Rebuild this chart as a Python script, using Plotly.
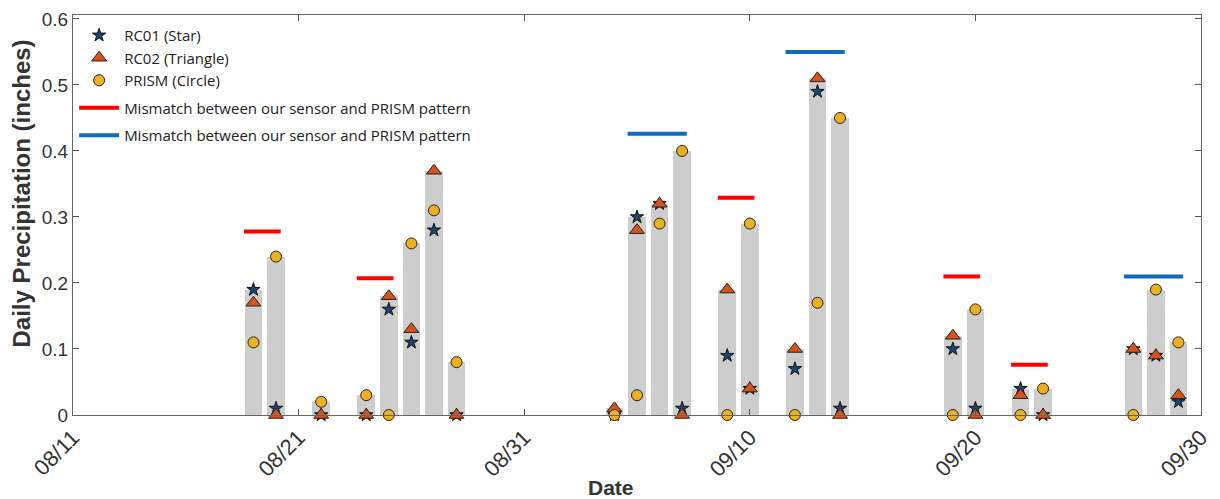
import plotly.graph_objects as go
import pandas as pd

# ---------------- data ----------------
dates = ["2024-08-19", "2024-08-20", "2024-08-22", "2024-08-24", "2024-08-25",
         "2024-08-26", "2024-08-27", "2024-08-28", "2024-09-04", "2024-09-05",
         "2024-09-06", "2024-09-07", "2024-09-09", "2024-09-10", "2024-09-12",
         "2024-09-13", "2024-09-14", "2024-09-19", "2024-09-20", "2024-09-22",
         "2024-09-23", "2024-09-27", "2024-09-28", "2024-09-29"]
rc01 = [0.19, 0.01, 0.00, 0.00, 0.16, 0.11, 0.28, 0.00, 0.00, 0.30,
        0.32, 0.01, 0.09, 0.04, 0.07, 0.49, 0.01, 0.10, 0.01, 0.04,
        0.00, 0.10, 0.09, 0.02]
rc02 = [0.17, 0.00, 0.00, 0.00, 0.18, 0.13, 0.37, 0.00, 0.01, 0.28,
        0.32, 0.00, 0.19, 0.04, 0.10, 0.51, 0.00, 0.12, 0.00, 0.03,
        0.00, 0.10, 0.09, 0.03]
prism = [0.11, 0.24, 0.02, 0.03, 0.00, 0.26, 0.31, 0.08, 0.00, 0.03,
         0.29, 0.40, 0.00, 0.29, 0.00, 0.17, 0.45, 0.00, 0.16, 0.00,
         0.04, 0.00, 0.19, 0.11]

# mismatch segments: (start day, end day, level)
red_start = ["2024-08-19", "2024-08-24", "2024-09-09", "2024-09-19", "2024-09-22"]
red_end = ["2024-08-20", "2024-08-25", "2024-09-10", "2024-09-20", "2024-09-23"]
red_level = [0.278, 0.207, 0.329, 0.210, 0.076]
blue_start = ["2024-09-05", "2024-09-12", "2024-09-27"]
blue_end = ["2024-09-07", "2024-09-14", "2024-09-29"]
blue_level = [0.426, 0.550, 0.210]

tick_dates = ["2024-08-11", "2024-08-21", "2024-08-31", "2024-09-10", "2024-09-20", "2024-09-30"]
tick_text = ["08/11", "08/21", "08/31", "09/10", "09/20", "09/30"]

# ---------------- build ----------------
bar_height = [max(a, b, c) for a, b, c in zip(rc01, rc02, prism)]
DAY_MS = 86400000

def segs(starts, ends, levels):
    xs, ys = [], []
    for s, e, l in zip(starts, ends, levels):
        s0 = pd.Timestamp(s) - pd.Timedelta(hours=10)
        e0 = pd.Timestamp(e) + pd.Timedelta(hours=5)
        xs += [s0, e0, None]
        ys += [l, l, None]
    return xs, ys

fig = go.Figure()
fig.add_trace(go.Bar(x=dates, y=bar_height, width=0.78 * DAY_MS,
                     marker=dict(color="#cdcdcd", line=dict(width=0)),
                     showlegend=False, hoverinfo="skip"))

fig.add_trace(go.Scatter(x=dates, y=rc01, mode="markers", name="RC01 (Star)",
                         legendgroup="a", cliponaxis=False,
                         marker=dict(symbol="star", size=10, color="#1b4470",
                                     line=dict(color="#111111", width=1))))
fig.add_trace(go.Scatter(x=dates, y=rc02, mode="markers", name="RC02 (Triangle)",
                         legendgroup="a", cliponaxis=False,
                         marker=dict(symbol="triangle-up", size=13, color="#d95319",
                                     line=dict(color="#222222", width=1))))
fig.add_trace(go.Scatter(x=dates, y=prism, mode="markers", name="PRISM (Circle)",
                         legendgroup="a", cliponaxis=False,
                         marker=dict(symbol="circle", size=11, color="#edb120",
                                     line=dict(color="#222222", width=1))))

rx, ry = segs(red_start, red_end, red_level)
fig.add_trace(go.Scatter(x=rx, y=ry, mode="lines", legendgroup="b",
                         name="Mismatch between our sensor and PRISM pattern",
                         line=dict(color="#ff0000", width=4)))
bx, by = segs(blue_start, blue_end, blue_level)
fig.add_trace(go.Scatter(x=bx, y=by, mode="lines", legendgroup="c",
                         name="Mismatch between our sensor and PRISM pattern",
                         line=dict(color="#0f6cbd", width=4)))

LIB = "Liberation Sans, Arial, sans-serif"
fig.update_layout(
    width=1220, height=499,
    margin=dict(l=73, r=19, t=15, b=84),
    plot_bgcolor="white", paper_bgcolor="white",
    bargap=0,
    showlegend=True,
    legend=dict(x=0.001, y=0.99, xanchor="left", yanchor="top",
                bgcolor="rgba(0,0,0,0)", tracegroupgap=5, itemwidth=40,
                font=dict(family="Open Sans, sans-serif", size=15, color="#222222")),
    xaxis=dict(type="date", range=["2024-08-11", "2024-09-30"], automargin=False,
               tickvals=tick_dates, ticktext=tick_text, tickangle=-45,
               ticks="inside", ticklen=6, tickcolor="#555555",
               showline=True, linecolor="#666666", linewidth=1, mirror="ticks",
               showgrid=False, zeroline=False,
               tickfont=dict(family=LIB, size=22, color="#333333")),
    yaxis=dict(range=[0, 0.606], automargin=False,
               tickvals=[0, 0.1, 0.2, 0.3, 0.4, 0.5, 0.6],
               ticktext=["0", "0.1", "0.2", "0.3", "0.4", "0.5", "0.6"],
               ticks="inside", ticklen=6, tickcolor="#555555",
               showline=True, linecolor="#666666", linewidth=1, mirror="ticks",
               showgrid=False, zeroline=False,
               tickfont=dict(family=LIB, size=19, color="#333333")),
    annotations=[
        dict(text="<b>Date</b>", xref="paper", yref="paper",
             x=0.477, y=-0.18, xanchor="center", yanchor="middle",
             showarrow=False, font=dict(family=LIB, size=21, color="#333333")),
        dict(text="<b>Daily Precipitation (inches)</b>", xref="paper", yref="paper",
             x=-0.0455, y=0.553, xanchor="center", yanchor="middle", textangle=-90,
             showarrow=False, font=dict(family=LIB, size=24, color="#333333")),
    ],
)

fig.write_html("out.html")
